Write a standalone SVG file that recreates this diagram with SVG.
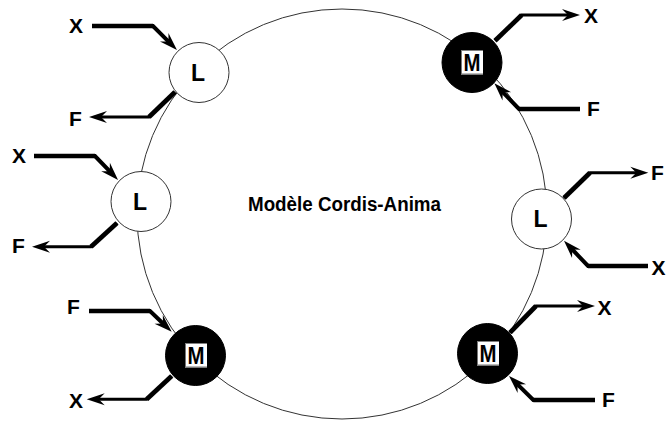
<svg xmlns="http://www.w3.org/2000/svg" width="666" height="421" viewBox="0 0 666 421">
<style>
.ring{fill:none;stroke:#333;stroke-width:1}
.nl{fill:#fff;stroke:#333;stroke-width:1}
.nm{fill:#000;stroke:#000;stroke-width:1}
.box{fill:#fff;stroke:none}
.shade{fill:none;stroke:#777;stroke-width:1}
.t{font-family:"Liberation Sans",Arial,Helvetica,sans-serif;font-weight:bold;fill:#000}
.nt{font-size:23px;text-anchor:middle}
.lb{font-size:21px}
.ti{font-size:20px}
.c{fill:none;stroke:#000;stroke-linejoin:miter;stroke-linecap:butt}
.thin{stroke-width:3}
.mid{stroke-width:4}
.thick{stroke-width:4.7}
</style>
<defs>
<marker id="ah" markerUnits="userSpaceOnUse" orient="auto" refX="0" refY="0" markerWidth="30" markerHeight="30" overflow="visible">
<path d="M8,0 L-10,-6 L-4,0 L-10,6 Z" fill="#000"/>
</marker>
</defs>
<rect width="666" height="421" fill="#fff"/>
<g id="ring"><circle class="ring" cx="342" cy="214" r="205"/></g>
<text class="t ti" x="248" y="211" textLength="193" lengthAdjust="spacingAndGlyphs">Modèle Cordis-Anima</text>
<g id="connectors">
<path class="c mid" d="M92,26 H153 L171.3,44.3" marker-end="url(#ah)"/>
<path class="c thick" d="M92,26 H153"/>
<path class="c thin" d="M175,92 L149,117 H97" marker-end="url(#ah)"/>
<path class="c thick" d="M175,92 L149,117"/>
<text class="t lb" x="69" y="33">X</text>
<text class="t lb" x="69" y="126">F</text>
<path class="c thin" d="M495,40.7 L521.7,15 H572" marker-end="url(#ah)"/>
<path class="c thick" d="M495,40.7 L521.7,15"/>
<path class="c mid" d="M580,109 H519 L499.9,89.1" marker-end="url(#ah)"/>
<path class="c thick" d="M580,109 H519"/>
<text class="t lb" x="584" y="23">X</text>
<text class="t lb" x="587" y="116">F</text>
<path class="c mid" d="M34,156 H95 L112.5,174.2" marker-end="url(#ah)"/>
<path class="c thick" d="M34,156 H95"/>
<path class="c thin" d="M117,223 L91,246.7 H40" marker-end="url(#ah)"/>
<path class="c thick" d="M117,223 L91,246.7"/>
<text class="t lb" x="12" y="163">X</text>
<text class="t lb" x="12" y="253">F</text>
<path class="c thin" d="M564,198 L590,172.7 H640.3" marker-end="url(#ah)"/>
<path class="c thick" d="M564,198 L590,172.7"/>
<path class="c mid" d="M648,266 H588 L569.5,246.5" marker-end="url(#ah)"/>
<path class="c thick" d="M648,266 H588"/>
<text class="t lb" x="651" y="180">F</text>
<text class="t lb" x="651.5" y="275">X</text>
<path class="c mid" d="M89,311 H150 L165.9,326.2" marker-end="url(#ah)"/>
<path class="c thick" d="M89,311 H150"/>
<path class="c thin" d="M171.7,376 L146.7,399.3 H94.7" marker-end="url(#ah)"/>
<path class="c thick" d="M171.7,376 L146.7,399.3"/>
<text class="t lb" x="67" y="314">F</text>
<text class="t lb" x="69" y="408">X</text>
<path class="c thin" d="M510,332.7 L536,306 H587" marker-end="url(#ah)"/>
<path class="c thick" d="M510,332.7 L536,306"/>
<path class="c mid" d="M595,400 H533.3 L514.7,381.6" marker-end="url(#ah)"/>
<path class="c thick" d="M595,400 H533.3"/>
<text class="t lb" x="597.5" y="315">X</text>
<text class="t lb" x="602" y="407">F</text>
</g>
<g id="node-l1"><circle class="nl" cx="199" cy="72.5" r="30"/><text class="t nt" x="198" y="80.5">L</text></g>
<g id="node-m1"><circle class="nm" cx="472" cy="62.5" r="30"/><rect class="box" x="461" y="50.5" width="22" height="24"/><path class="shade" d="M461.5,51 V74 H483"/><text class="t nt" x="472" y="70.5" textLength="17" lengthAdjust="spacingAndGlyphs">M</text></g>
<g id="node-l2"><circle class="nl" cx="141" cy="201.5" r="30"/><text class="t nt" x="140" y="209.5">L</text></g>
<g id="node-l3"><circle class="nl" cx="541.5" cy="219" r="30"/><text class="t nt" x="540.5" y="227">L</text></g>
<g id="node-m2"><circle class="nm" cx="195.5" cy="355.5" r="30"/><rect class="box" x="185" y="343.5" width="22" height="24"/><path class="shade" d="M185.5,344 V367 H207"/><text class="t nt" x="196" y="363.5" textLength="17" lengthAdjust="spacingAndGlyphs">M</text></g>
<g id="node-m3"><circle class="nm" cx="487.5" cy="353.5" r="30"/><rect class="box" x="477" y="341.5" width="22" height="24"/><path class="shade" d="M477.5,342 V365 H499"/><text class="t nt" x="488" y="361.5" textLength="17" lengthAdjust="spacingAndGlyphs">M</text></g>
</svg>
